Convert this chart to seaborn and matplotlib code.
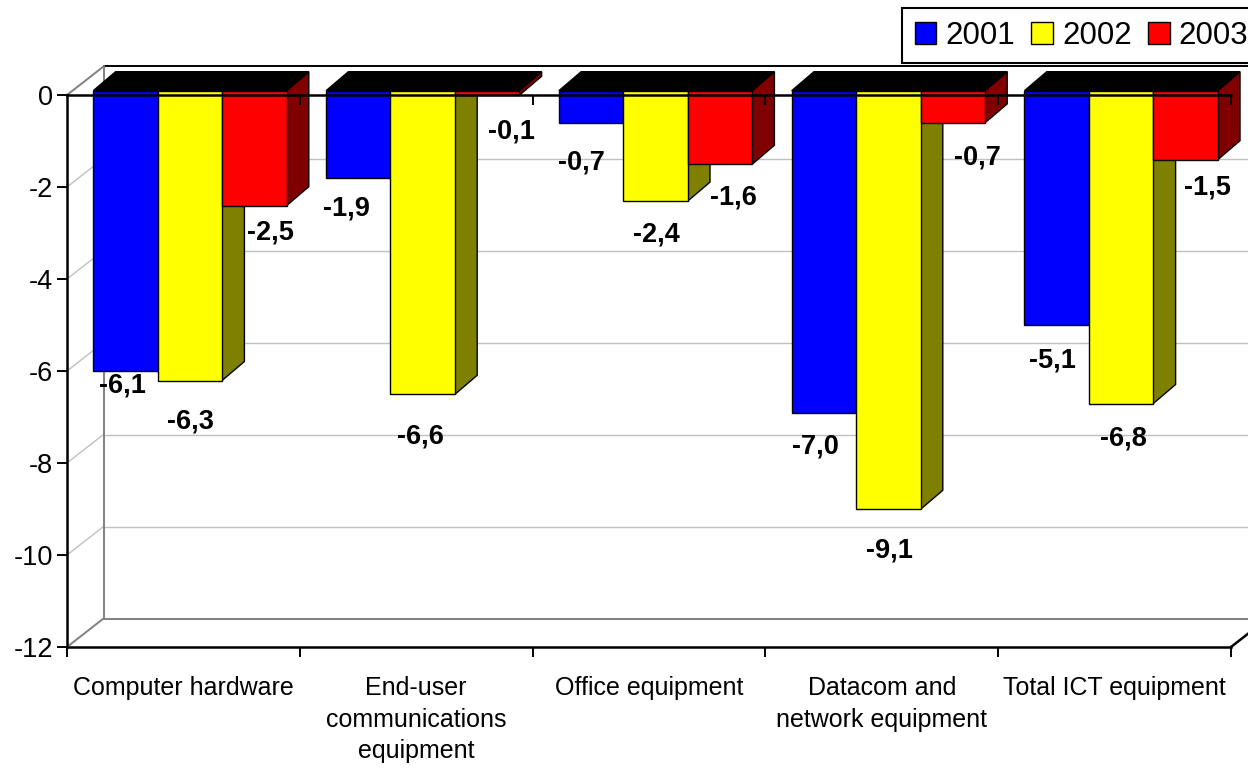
import matplotlib
matplotlib.use("Agg")
import matplotlib.pyplot as plt
from matplotlib.patches import Polygon, Patch
import numpy as np
import pandas as pd
import seaborn as sns

categories = ["Computer hardware", "End-user\ncommunications\nequipment",
              "Office equipment", "Datacom and\nnetwork equipment",
              "Total ICT equipment"]
years = ["2001", "2002", "2003"]
v2001 = [-6.1, -1.9, -0.7, -7.0, -5.1]
v2002 = [-6.3, -6.6, -2.4, -9.1, -6.8]
v2003 = [-2.5, -0.1, -1.6, -0.7, -1.5]
y_ticks = [0, -2, -4, -6, -8, -10, -12]

face = {"2001": "#0000ff", "2002": "#ffff00", "2003": "#ff0000"}
side = {"2001": "#000080", "2002": "#808000", "2003": "#800000"}

# label nudges (px right, px down) from the lower edge of each bar, as in the original
nudge = {
    "2001": [(-3, 14), (-12, 30), (-10, 40), (-8, 34), (-4, 35)],
    "2002": [(1, 41), (-2, 42), (1, 33), (1, 41), (2, 35)],
    "2003": [(16, 27), (24, 36), (14, 33), (25, 35), (22, 28)],
}

# fake 3d: offsets in pixels (right, up)
WALL = (36.5, 28.5)
BAR_FRONT = (6.5, 4.3)
BAR_DEPTH = (22.3, 19.0)

df = pd.DataFrame({
    "sector": categories * 3,
    "year": np.repeat(years, len(categories)),
    "change": v2001 + v2002 + v2003,
})

sns.set_style("white")
plt.rcParams["font.family"] = ["Liberation Sans", "DejaVu Sans"]
plt.rcParams.update({"text.color": "black", "xtick.color": "black",
                     "ytick.color": "black", "axes.labelcolor": "black"})

W, H = 1248, 768
fig = plt.figure(figsize=(W / 100, H / 100), dpi=100)
ax = fig.add_axes([67 / W, 1 - 647 / H, (1231 - 67) / W, (647 - 95) / H])

sns.barplot(data=df, x="sector", y="change", hue="year", order=categories,
            hue_order=years, palette=face, saturation=1, width=0.83,
            edgecolor="black", linewidth=1, errorbar=None, legend=False, ax=ax)
ax.set_xlim(-0.5, 4.5)
ax.set_ylim(-12, 0)


def px2data(dx, dy):
    inv = ax.transData.inverted()
    a = inv.transform((0, 0))
    b = inv.transform((dx, dy))
    return b[0] - a[0], b[1] - a[1]


fx, fy = px2data(*BAR_FRONT)
bx, by = px2data(*BAR_DEPTH)
wx, wy = px2data(*WALL)

# walls and gridlines
for t in y_ticks:
    c = "#808080" if t in (0, -12) else "#c0c0c0"
    lw = 1.4 if t in (0, -12) else 1.0
    ax.plot([-0.5, -0.5 + wx], [t, t + wy], color=c, lw=lw, clip_on=False, zorder=0.5)
    back = "black" if t == 0 else c
    ax.plot([-0.5 + wx, 4.5 + wx], [t + wy, t + wy], color=back, lw=lw,
            clip_on=False, zorder=0.5)
ax.plot([-0.5 + wx, -0.5 + wx], [wy, -12 + wy], color="#808080", lw=1.4,
        clip_on=False, zorder=0.5)
ax.plot([4.5, 4.5 + wx], [-12, -12 + wy], color="black", lw=1.8,
        clip_on=False, zorder=0.5)

# bars: shift fronts back a bit, add side and top faces
for year, cont in zip(years, ax.containers):
    for i, rect in enumerate(cont):
        v = rect.get_height()
        xl = rect.get_x() + fx
        xr = xl + rect.get_width()
        yt, yb = fy, v + fy
        rect.set_x(xl)
        rect.set_y(yt)
        rect.set_zorder(3)
        rect.set_clip_on(False)
        ax.add_patch(Polygon([(xr, yt), (xr, yb), (xr + bx, yb + by), (xr + bx, yt + by)],
                             closed=True, facecolor=side[year], edgecolor="black",
                             lw=1, zorder=2, clip_on=False))
        ax.add_patch(Polygon([(xl, yt), (xr, yt), (xr + bx, yt + by), (xl + bx, yt + by)],
                             closed=True, facecolor="black", edgecolor="black",
                             lw=1, zorder=2, clip_on=False))
        dx, dy = nudge[year][i]
        ax.annotate(f"{v:.1f}".replace(".", ","), xy=((xl + xr) / 2, yb),
                    xytext=(dx, -dy), textcoords="offset pixels", ha="center",
                    va="center", fontsize=19.5, fontweight="bold", zorder=7,
                    annotation_clip=False)

# front frame
for s in ["left", "bottom", "top"]:
    ax.spines[s].set_visible(True)
    ax.spines[s].set_color("black")
    ax.spines[s].set_linewidth(1.8)
ax.spines["top"].set_zorder(6)
ax.spines["right"].set_visible(False)

bounds = np.arange(-0.5, 5, 1.0)
tick_len = px2data(0, -10)[1]
ax.vlines(bounds[1:], 0, tick_len, color="black", lw=1.4, zorder=6, clip_on=False)

ax.set_yticks(y_ticks)
ax.set_yticklabels([str(t) for t in y_ticks])
ax.tick_params(axis="y", length=7.2, width=1.4, pad=3, labelsize=19.5,
               direction="out", color="black", left=True)
ax.set_xticks(range(len(categories)))
ax.set_xticklabels(categories, linespacing=1.4)
ax.set_xticks(bounds, minor=True)
ax.tick_params(axis="x", which="major", length=0, pad=21, labelsize=18)
ax.tick_params(axis="x", which="minor", length=7.2, width=1.4, direction="out",
               color="black", bottom=True)
ax.set_xlabel("")
ax.set_ylabel("")
ax.grid(False)

handles = [Patch(facecolor=face[y], edgecolor="black", linewidth=1) for y in years]
leg = fig.legend(handles, years, loc="upper left", bbox_to_anchor=(902 / W, 1 - 8 / H),
                 ncol=3, fontsize=22.5, frameon=True, fancybox=False,
                 edgecolor="black", framealpha=1, handlelength=0.7,
                 handleheight=0.7, handletextpad=0.3, columnspacing=0.5,
                 borderpad=0.4, borderaxespad=0)
leg.get_frame().set_linewidth(1.5)

fig.savefig("out.png", dpi=100)
